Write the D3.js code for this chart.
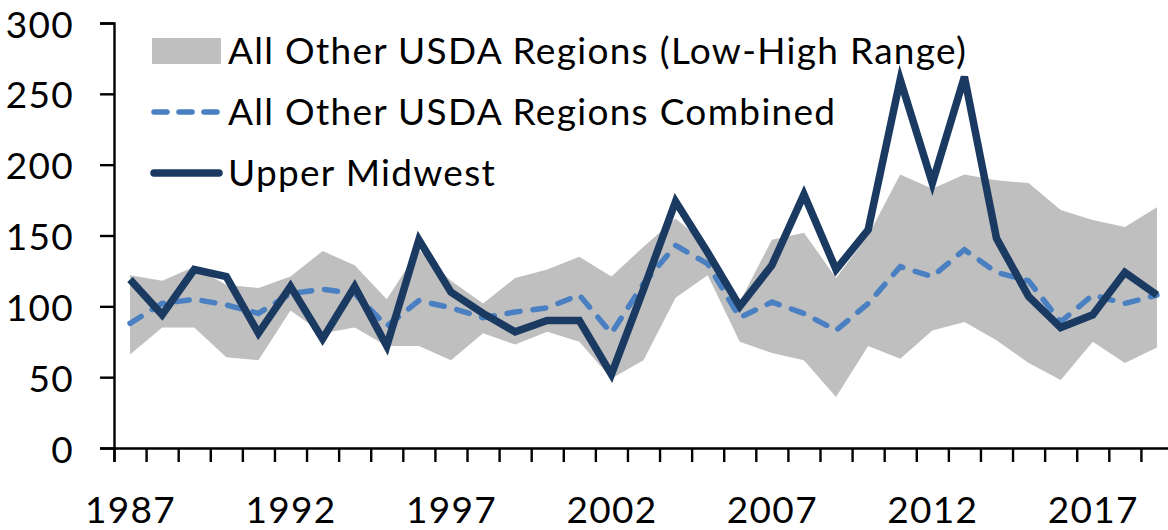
<!DOCTYPE html>
<html>
<head>
<meta charset="utf-8">
<script src="https://cdn.jsdelivr.net/npm/d3@7"></script>
<style>
	body { margin: 0; background: #fff; }
	svg text { font-family: Lato, "Liberation Sans", sans-serif; fill: #000; letter-spacing: 1.3px; }
</style>
</head>
<body>
<div id="chart"></div>
<script>

// chart values
const years = [ 1987, 1988, 1989, 1990, 1991, 1992, 1993, 1994, 1995, 1996,
	1997, 1998, 1999, 2000, 2001, 2002, 2003, 2004, 2005, 2006,
	2007, 2008, 2009, 2010, 2011, 2012, 2013, 2014, 2015, 2016,
	2017, 2018, 2019 ];

const range_low = [ 66, 85, 85, 64, 62, 97, 81, 85, 72, 72,
	62, 81, 73, 82, 75, 49, 62, 106, 122, 75,
	67, 62, 36, 72, 63, 83, 89, 76, 60, 48,
	75, 60, 71 ];

const range_high = [ 122, 118, 128, 115, 113, 121, 139, 129, 105, 140,
	118, 102, 120, 126, 135, 121, 142, 162, 143, 103,
	147, 152, 120, 150, 193, 183, 193, 189, 187, 168,
	161, 156, 170 ];

const combined = [ 88, 102, 105, 101, 95, 109, 112, 109, 86, 104,
	99, 92, 96, 99, 108, 81, 116, 143, 130, 92,
	103, 95, 83, 102, 128, 121, 140, 124, 118, 89,
	108, 102, 108 ];

const upper_midwest = [ 119, 94, 126, 121, 81, 114, 77, 114, 72, 147,
	110, 95, 82, 90, 90, 52, 112, 174, 138, 100,
	129, 179, 126, 154, 260, 187, 262, 148, 107, 85,
	94, 124, 108 ];

const y_ticks = [ 0, 50, 100, 150, 200, 250, 300 ];
const x_labels = [ 1987, 1992, 1997, 2002, 2007, 2012, 2017 ];

const legend_items = [
	{ label: "All Other USDA Regions (Low-High Range)", kind: "area" },
	{ label: "All Other USDA Regions Combined", kind: "dash" },
	{ label: "Upper Midwest", kind: "solid" }
];

///////////////////////////////////////////////////////////////////////

const width = 1168, height = 530;
const plot = { left: 114, right: 1173, top: 23, bottom: 448 };

const NAVY = "#1b3a62", BLUE = "#4a80c2", GRAY = "#bfbfbf";
const FONT_SIZE = 37;

let svg = d3.select( "#chart" )
	.append( "svg" )
		.attr( "width", width )
		.attr( "height", height );

let x = d3.scaleLinear()
	.domain( [ years[ 0 ] - 0.5, years[ years.length - 1 ] + 0.5 ] )
	.range( [ plot.left, plot.right ] );

let y = d3.scaleLinear()
	.domain( [ 0, 300 ] )
	.range( [ plot.bottom, plot.top ] );

let rows = years.map( ( yr, i ) => ( {
	year: yr,
	low: range_low[ i ],
	high: range_high[ i ],
	comb: combined[ i ],
	um: upper_midwest[ i ]
} ) );

// range band
svg.append( "path" )
	.datum( rows )
	.attr( "fill", GRAY )
	.attr( "d", d3.area()
		.x( d => x( d.year ) )
		.y0( d => y( d.low ) )
		.y1( d => y( d.high ) ) );

// axes
let y_axis = svg.append( "g" )
	.attr( "transform", `translate(${ plot.left },0)` )
	.call( d3.axisLeft( y ).tickValues( y_ticks ).tickSize( 14 ).tickPadding( 26 ) );

y_axis.selectAll( ".tick text" ).attr( "dy", "0.38em" );

let x_axis = svg.append( "g" )
	.attr( "transform", `translate(0,${ plot.bottom })` )
	.call( d3.axisBottom( x )
		.tickValues( years.map( d => d - 0.5 ).concat( [ years[ years.length - 1 ] + 0.5 ] ) )
		.tickSize( 14 )
		.tickFormat( "" ) );

let x_text = svg.append( "g" )
	.attr( "transform", `translate(0,${ plot.bottom })` )
	.call( d3.axisBottom( x ).tickValues( x_labels ).tickSize( 0 ).tickPadding( 49 ).tickFormat( d3.format( "d" ) ) );

x_text.select( ".domain" ).remove();

[ y_axis, x_axis ].forEach( g => {
	g.selectAll( "line, .domain" )
		.attr( "stroke", "#000" )
		.attr( "stroke-width", 2.4 );
} );

svg.selectAll( ".tick text" )
	.attr( "font-size", FONT_SIZE )
	.attr( "font-family", "Lato" );

// lines
svg.append( "path" )
	.datum( rows )
	.attr( "fill", "none" )
	.attr( "stroke", BLUE )
	.attr( "stroke-width", 5.5 )
	.attr( "stroke-dasharray", "13,13" )
	.attr( "stroke-linecap", "round" )
	.attr( "d", d3.line().x( d => x( d.year ) ).y( d => y( d.comb ) ) );

svg.append( "path" )
	.datum( rows )
	.attr( "fill", "none" )
	.attr( "stroke", NAVY )
	.attr( "stroke-width", 7.5 )
	.attr( "stroke-linejoin", "miter" )
	.attr( "d", d3.line().x( d => x( d.year ) ).y( d => y( d.um ) ) );

// legend
let legend = svg.append( "g" );

legend_items.forEach( ( item, i ) => {

	let cy = 51 + i * 61;

	if( item.kind == "area" )
		legend.append( "rect" )
			.attr( "x", 152 ).attr( "y", cy - 13 )
			.attr( "width", 69 ).attr( "height", 26 )
			.attr( "fill", GRAY );
	else
		legend.append( "line" )
			.attr( "x1", 154 ).attr( "x2", 219 )
			.attr( "y1", cy ).attr( "y2", cy )
			.attr( "stroke", item.kind == "dash" ? BLUE : NAVY )
			.attr( "stroke-width", item.kind == "dash" ? 5.5 : 7.5 )
			.attr( "stroke-linecap", "round" )
			.attr( "stroke-dasharray", item.kind == "dash" ? "13,12" : null );

	legend.append( "text" )
		.attr( "x", 228 )
		.attr( "y", cy )
		.attr( "dy", "0.35em" )
		.attr( "font-size", FONT_SIZE )
		.text( item.label );
} );

</script>
</body>
</html>
